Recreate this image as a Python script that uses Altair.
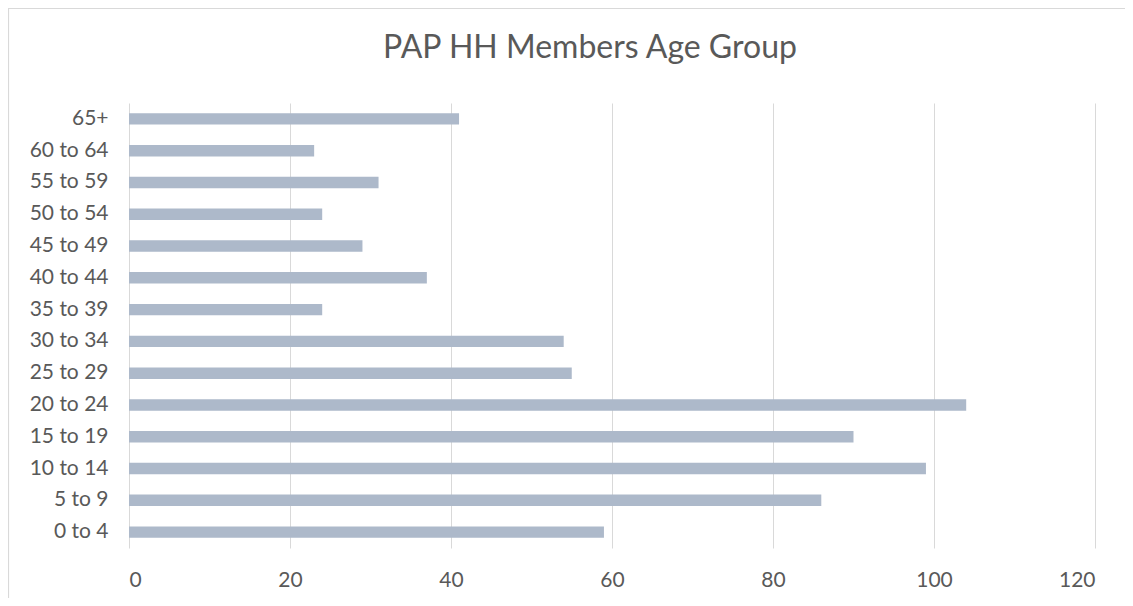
import altair as alt
import pandas as pd

age_groups = ["0 to 4", "5 to 9", "10 to 14", "15 to 19", "20 to 24", "25 to 29",
              "30 to 34", "35 to 39", "40 to 44", "45 to 49", "50 to 54", "55 to 59",
              "60 to 64", "65+"]
counts = [59, 86, 99, 90, 104, 55, 54, 24, 37, 29, 24, 31, 23, 41]
x_ticks = [0, 20, 40, 60, 80, 100, 120]
chart_title = ["PAP HH Members Age Group"]

df = pd.DataFrame({"group": age_groups, "count": counts})

FONT = "Lato"
GREY = "#595959"
W, H = 966, 445

bars = alt.Chart(df).mark_bar(color="#ADB9CA").encode(
    x=alt.X("count:Q",
            scale=alt.Scale(domain=[0, 120], nice=False, zero=True),
            axis=alt.Axis(values=x_ticks, title=None, domain=False, ticks=False,
                          grid=True, gridColor="#D9D9D9", gridWidth=1,
                          labelFont=FONT, labelFontSize=21, labelColor=GREY,
                          labelPadding=21)),
    y=alt.Y("group:N", sort=list(reversed(age_groups)),
            scale=alt.Scale(paddingInner=0.64, paddingOuter=0.32),
            axis=alt.Axis(title=None, domain=False, ticks=False, grid=False,
                          labelFont=FONT, labelFontSize=21, labelColor=GREY,
                          labelPadding=21)),
)

frame = pd.DataFrame({"a": [0]})
left_border = alt.Chart(frame).mark_rule(color="#D9D9D9", strokeWidth=1.2, clip=False).encode(
    x=alt.value(-120.5), y=alt.value(-94.5), y2=alt.value(H + 50))
top_border = alt.Chart(frame).mark_rule(color="#D9D9D9", strokeWidth=1.2, clip=False).encode(
    x=alt.value(-121), x2=alt.value(W + 30), y=alt.value(-94.5))

title_df = pd.DataFrame({"t": chart_title})
title = alt.Chart(title_df).mark_text(
    font=FONT, fontSize=32, color=GREY, align="center", baseline="alphabetic", clip=False
).encode(text="t:N", x=alt.value(461), y=alt.value(-45))

chart = alt.layer(bars, left_border, top_border, title).properties(
    width=W, height=H,
    autosize=alt.AutoSizeParams(type="none"),
    padding={"left": 121, "top": 95, "right": 30, "bottom": 50},
).configure_view(stroke=None)

chart.save("out.html", embed_options={"renderer": "svg", "actions": False})
